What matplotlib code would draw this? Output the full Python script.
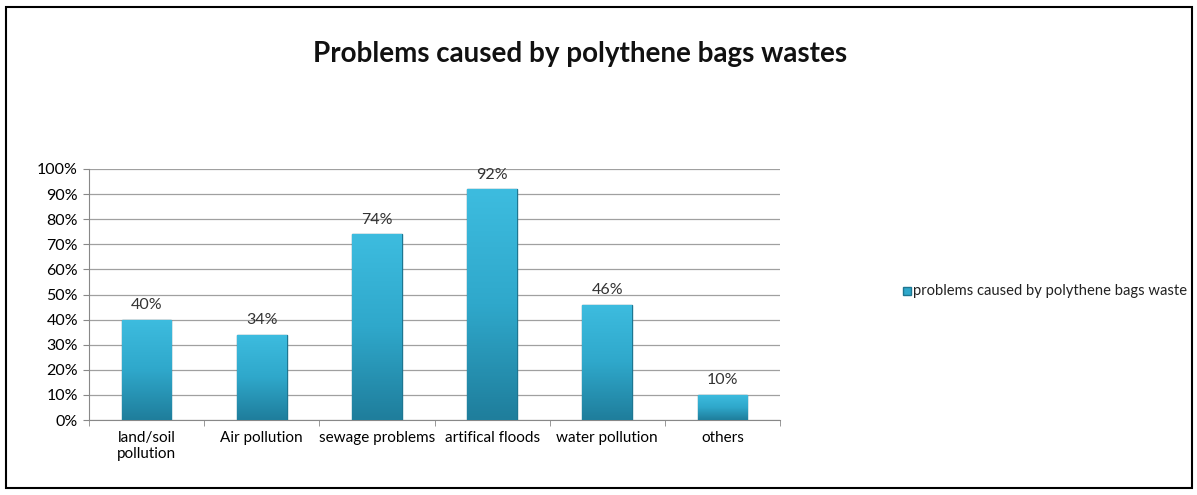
import matplotlib.pyplot as plt
import matplotlib.patches as mpatches
import numpy as np

plt.rcParams['font.family'] = ['Lato', 'DejaVu Sans']

# Data
categories = ['land/soil\npollution', 'Air pollution', 'sewage problems',
              'artifical floods', 'water pollution', 'others']
values = [0.40, 0.34, 0.74, 0.92, 0.46, 0.10]
series_name = 'problems caused by polythene bags waste'
title = 'Problems caused by polythene bags wastes'

fig = plt.figure(figsize=(11.97, 4.95), dpi=100)
ax = fig.add_axes([0.0744, 0.1515, 0.5772, 0.5071])

x = np.arange(len(categories))
bars = ax.bar(x, values, width=0.43, color='#2FA8CB', edgecolor='#1E7691',
              linewidth=1.0, zorder=3)

# soft shading on each bar, lighter at the top, darker at the bottom
grad = np.linspace(0, 1, 100).reshape(-1, 1)
cmap = plt.matplotlib.colors.LinearSegmentedColormap.from_list(
    'bar', ['#1F7E9C', '#2FA8CB', '#3DBCDF'])
for b in bars:
    x0, w, h = b.get_x(), b.get_width(), b.get_height()
    im = ax.imshow(grad, extent=(x0, x0 + w, 0, h), origin='lower',
                   aspect='auto', cmap=cmap, zorder=3.5)
    im.set_clip_path(b)
ax.set_aspect('auto')

for xi, v in zip(x, values):
    ax.text(xi, v + 0.03, f'{v:.0%}', ha='center', va='bottom',
            fontsize=11.5, color='#333333')

ax.set_xlim(-0.5, len(categories) - 0.5)
ax.set_ylim(0, 1.0)
ax.set_yticks(np.arange(0, 1.01, 0.1))
ax.set_yticklabels([f'{int(round(t*100))}%' for t in np.arange(0, 1.01, 0.1)],
                   fontsize=11.5)
ax.set_xticks(x)
ax.set_xticklabels(categories, fontsize=11)
ax.set_xticks(np.arange(-0.5, len(categories), 1), minor=True)
ax.tick_params(axis='x', which='major', length=0, pad=8)
ax.tick_params(axis='x', which='minor', length=4, color='#888888')
ax.tick_params(axis='y', length=4, color='#888888', pad=4)
ax.grid(axis='y', color='#A0A0A0', linewidth=0.9, zorder=0)
for s in ['top', 'right']:
    ax.spines[s].set_visible(False)
for s in ['left', 'bottom']:
    ax.spines[s].set_color('#888888')

fig.text(0.485, 0.89, title, ha='center', va='center', fontsize=20,
         fontweight='bold', color='#111111')

# legend
fig.patches.append(mpatches.Rectangle((0.7545, 0.404), 0.0065, 0.016,
                                      transform=fig.transFigure,
                                      facecolor='#2FA8CB', edgecolor='#1E7691'))
fig.text(0.7625, 0.412, series_name, ha='left', va='center', fontsize=10.6,
         color='#222222')

# outer frame
fig.patches.append(mpatches.Rectangle((0.005, 0.014), 0.991, 0.972,
                                      transform=fig.transFigure, fill=False,
                                      edgecolor='black', linewidth=1.5))

fig.savefig('out.png', dpi=100)
